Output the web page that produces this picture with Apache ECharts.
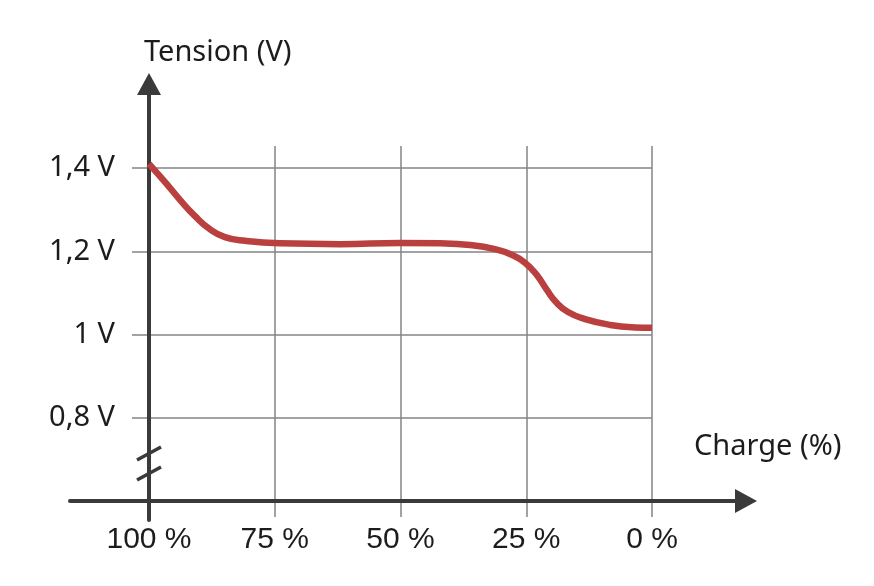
<!DOCTYPE html>
<html>
<head>
<meta charset="utf-8">
<script src="https://cdn.jsdelivr.net/npm/echarts@6/dist/echarts.min.js"></script>
<style>
  html, body { margin: 0; padding: 0; background: #fff; }
  #chart { width: 874px; height: 586px; }
</style>
</head>
<body>
<div id="chart"></div>
<script>
// discharge curve
const charge = [100, 96.8, 93.8, 90.9, 87.9, 84.9, 80.9, 74, 62, 50.1, 42.1, 36.2, 31.2, 27.8, 25.2, 22.9, 20.9, 19.1, 16.7, 13.3, 8.3, 3.4, 0];
const voltage = [1.41, 1.366, 1.323, 1.285, 1.253, 1.234, 1.225, 1.219, 1.217, 1.22, 1.219, 1.215, 1.205, 1.191, 1.172, 1.143, 1.107, 1.078, 1.054, 1.037, 1.023, 1.017, 1.016];

const chargeTicks = [100, 75, 50, 25, 0];
const chargeTickLabels = ['100 %', '75 %', '50 %', '25 %', '0 %'];
const voltageTicks = [0.8, 1.0, 1.2, 1.4];
const voltageTickLabels = ['0,8 V', '1 V', '1,2 V', '1,4 V'];

const AXIS = '#3a3a3a';
const GRID = '#848484';
const TEXT = '#1c1c1c';
const CURVE = '#b9403f';

function lookup(ticks, labels, v) {
  for (let i = 0; i < ticks.length; i++) {
    if (Math.abs(ticks[i] - v) < 1e-6) return labels[i];
  }
  return '';
}

const gridLine = { lineStyle: { color: GRID, width: 1.5 } };
const axisArrow = {
  onZero: false,
  lineStyle: { color: AXIS, width: 4 },
  symbol: ['none', 'triangle'],
  symbolSize: [24, 22]
};

const chart = echarts.init(document.getElementById('chart'));
chart.setOption({
  backgroundColor: '#fff',
  animation: false,
  title: [
    {
      text: 'Tension (V)', left: 139, top: 33,
      textStyle: { fontFamily: 'Noto Sans', fontSize: 29, fontWeight: 'normal', color: TEXT }
    },
    {
      text: 'Charge (%)', left: 689, top: 427,
      textStyle: { fontFamily: 'Noto Sans', fontSize: 29, fontWeight: 'normal', color: TEXT }
    }
  ],
  grid: [
    { left: 149, right: 222, top: 168, bottom: 85 },  // plot area
    { left: 149, right: 222, top: 146, bottom: 418 }, // grid lines above 1,4 V
    { left: 149, right: 222, top: 84, bottom: 66 },   // vertical axis with arrow
    { left: 70, right: 128, top: 84, bottom: 85 }     // horizontal axis with arrow
  ],
  xAxis: [
    {
      gridIndex: 0, type: 'value', inverse: true, min: 0, max: 100, interval: 25,
      axisLine: { show: false, onZero: false },
      axisTick: { length: 16, lineStyle: { color: GRID, width: 1.5 } },
      splitLine: gridLine,
      axisLabel: {
        margin: 24, fontFamily: 'Liberation Sans', fontSize: 30, color: TEXT,
        formatter: v => lookup(chargeTicks, chargeTickLabels, v)
      }
    },
    {
      gridIndex: 1, type: 'value', inverse: true, min: 0, max: 100, interval: 25,
      axisLine: { show: false, onZero: false }, axisTick: { show: false },
      axisLabel: { show: false }, splitLine: gridLine
    },
    { gridIndex: 2, type: 'value', show: false, min: 0, max: 1 },
    {
      gridIndex: 3, type: 'value', min: 0, max: 1, z: 3,
      axisLine: axisArrow, axisTick: { show: false },
      axisLabel: { show: false }, splitLine: { show: false }
    }
  ],
  yAxis: [
    {
      gridIndex: 0, type: 'value', min: 0.6, max: 1.4, interval: 0.2,
      axisLine: { show: false, onZero: false },
      axisTick: { length: 17, lineStyle: { color: GRID, width: 1.5 } },
      splitLine: gridLine,
      axisLabel: {
        margin: 34, showMinLabel: false, fontFamily: 'Noto Sans', fontSize: 29, color: TEXT,
        formatter: v => lookup(voltageTicks, voltageTickLabels, v)
      }
    },
    { gridIndex: 1, type: 'value', show: false, min: 0, max: 1 },
    {
      gridIndex: 2, type: 'value', min: 0, max: 1, z: 3,
      axisLine: axisArrow, axisTick: { show: false },
      axisLabel: { show: false }, splitLine: { show: false }
    },
    { gridIndex: 3, type: 'value', show: false, min: 0, max: 1 }
  ],
  series: [
    {
      type: 'line', xAxisIndex: 0, yAxisIndex: 0,
      data: charge.map((c, i) => [c, voltage[i]]),
      smooth: 0.5, showSymbol: false, clip: false, z: 5,
      lineStyle: { color: CURVE, width: 6.5 }
    },
    {
      // axis break marks on the vertical axis
      type: 'custom', xAxisIndex: 0, yAxisIndex: 0, z: 6, silent: true,
      data: [[100, 0.69]],
      renderItem: function (params, api) {
        const c = api.coord([api.value(0), api.value(1)]);
        const style = { stroke: AXIS, lineWidth: 3.5 };
        return {
          type: 'group',
          children: [
            { type: 'line', shape: { x1: c[0] - 12, y1: c[1] - 3.5, x2: c[0] + 12, y2: c[1] - 16.5 }, style: style },
            { type: 'line', shape: { x1: c[0] - 12, y1: c[1] + 16.5, x2: c[0] + 12, y2: c[1] + 3.5 }, style: style }
          ]
        };
      }
    }
  ]
});
</script>
</body>
</html>
